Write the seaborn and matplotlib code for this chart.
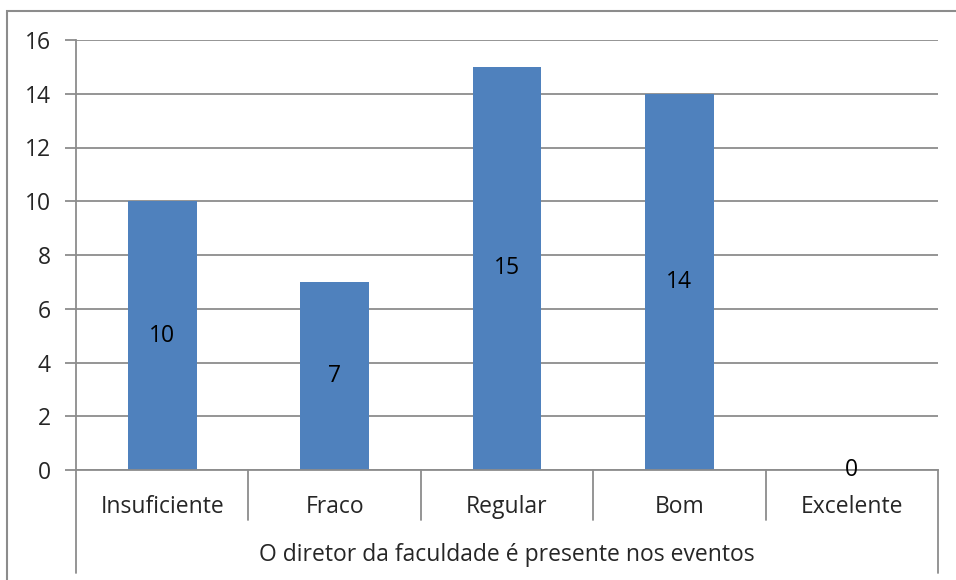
import matplotlib
matplotlib.use('Agg')
import matplotlib.pyplot as plt
import seaborn as sns
from matplotlib.patches import Rectangle
from matplotlib.lines import Line2D

# Dados do gráfico
categorias = ['Insuficiente', 'Fraco', 'Regular', 'Bom', 'Excelente']
valores = [10, 7, 15, 14, 0]
titulo_eixo = 'O diretor da faculdade é presente nos eventos'
ticks_y = [0, 2, 4, 6, 8, 10, 12, 14, 16]

sns.set_style('white')
plt.rcParams['font.family'] = ['Open Sans', 'DejaVu Sans']

cinza = '#8c8c8c'
azul = '#4F81BD'
fs = 16.5

fig = plt.figure(figsize=(9.56, 5.8), dpi=100)
ax = fig.add_axes([76 / 956, 110 / 580, (938 - 76) / 956, 430 / 580])

sns.barplot(x=categorias, y=valores, color=azul, width=0.4, saturation=1,
            linewidth=0, ax=ax)

ax.set_ylim(0, 16)
ax.set_xlim(-0.5, len(categorias) - 0.5)
ax.set_yticks(ticks_y)
ax.set_yticklabels([str(t) for t in ticks_y], fontsize=fs)
ax.yaxis.grid(True, color=cinza, linewidth=1.3)
ax.set_axisbelow(True)
ax.tick_params(axis='y', length=8, width=1.3, color=cinza, pad=10, left=True)
ax.tick_params(axis='x', length=0, labelbottom=False)
ax.set_xlabel('')
ax.set_ylabel('')

for lado in ['top', 'right']:
    ax.spines[lado].set_visible(False)
for lado in ['left', 'bottom']:
    ax.spines[lado].set_color(cinza)
    ax.spines[lado].set_linewidth(1.3)

# rótulos de valor no meio das barras
for i, v in enumerate(valores):
    ax.text(i, v / 2, str(v), ha='center', va='center', fontsize=fs, color='black')

# eixo de categorias em dois níveis (estilo Excel)
trans = ax.get_xaxis_transform()
for i, c in enumerate(categorias):
    ax.text(i, -0.086, c, transform=trans, ha='center', va='center', fontsize=fs)
for k in range(len(categorias) + 1):
    x = k - 0.5
    fim = -0.24 if k in (0, len(categorias)) else -0.117
    ax.add_line(Line2D([x, x], [0, fim], transform=trans, color=cinza,
                       linewidth=1.3, clip_on=False))
ax.text((len(categorias) - 1) / 2, -0.197, titulo_eixo, transform=trans,
        ha='center', va='center', fontsize=fs)

# borda externa do gráfico
fig.patches.append(Rectangle((7 / 956, -0.1), 1.2, (580 - 10.5) / 580 + 0.1,
                             transform=fig.transFigure, fill=False,
                             edgecolor=cinza, linewidth=1.5))

fig.savefig('out.png', dpi=100)
